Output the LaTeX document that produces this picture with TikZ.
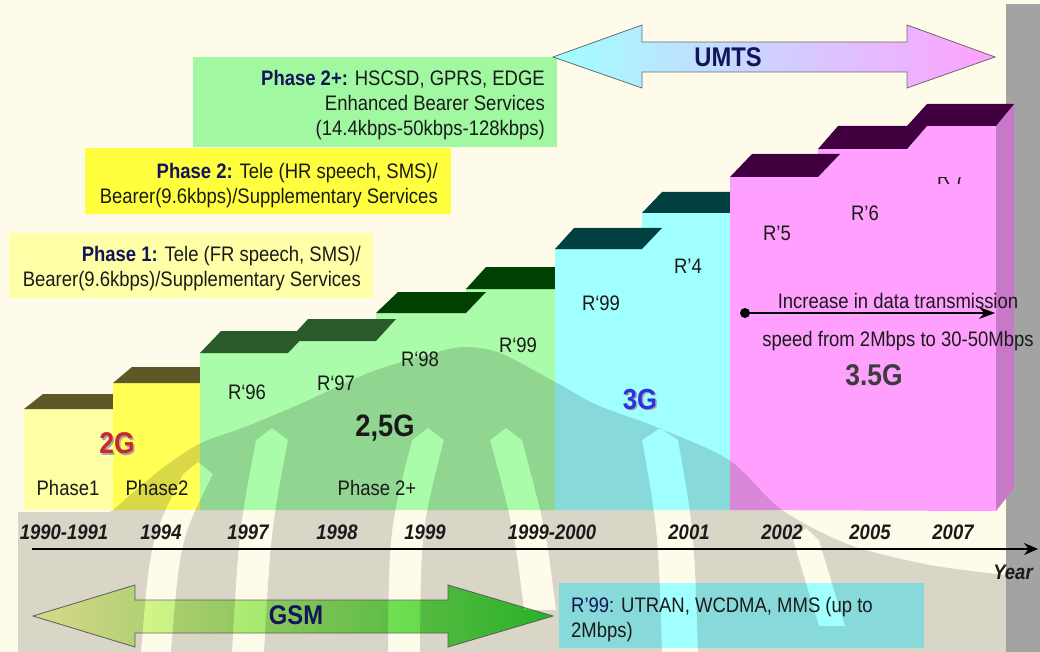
\documentclass[tikz,border=0pt]{standalone}
\usepackage{fontspec}
\setmainfont{Liberation Sans}[FakeStretch=0.88]
\usetikzlibrary{arrows.meta}

\definecolor{cream}{HTML}{FFFBEA}
\definecolor{greyband}{HTML}{A3A3A3}
\definecolor{navy}{HTML}{14145A}
\definecolor{ink}{HTML}{1A1A1A}
\definecolor{ylwA}{HTML}{FFFFA6}
\definecolor{ylwB}{HTML}{FFFF55}
\definecolor{olive}{HTML}{5C5828}
\definecolor{oliveside}{HTML}{D2CE8E}
\definecolor{grnF}{HTML}{AAFCAA}
\definecolor{grnT}{HTML}{2A5A2A}
\definecolor{grnD}{HTML}{004000}
\definecolor{cyF}{HTML}{A0FFFF}
\definecolor{cyT}{HTML}{004040}
\definecolor{pkF}{HTML}{FFA0FF}
\definecolor{pkT}{HTML}{400040}
\definecolor{pkS}{HTML}{C878C8}
\definecolor{boxG}{HTML}{A0F8A0}
\definecolor{boxY}{HTML}{FFFF40}
\definecolor{boxP}{HTML}{FFFFA8}
\definecolor{boxC}{HTML}{A0FFFF}
\definecolor{redtwo}{HTML}{C8282C}
\definecolor{bluethree}{HTML}{3030E0}
\definecolor{gsmL}{HTML}{FFFFA0}
\definecolor{gsmR}{HTML}{30D030}
\definecolor{umL}{HTML}{A0FFFF}
\definecolor{umR}{HTML}{FFA0FF}

\newcommand\smallsz{\fontsize{21}{25}\selectfont}
% a light band of the emblem: top point, control point, bottom point, half width
\newcommand\emblemband[4]{%
  ($(#1)+(-#4,0)$) .. controls ($(#2)+(-#4,0)$) .. ($(#3)+(-#4,0)$)
  -- ($(#3)+(#4,0)$) .. controls ($(#2)+(#4,0)$) .. ($(#1)+(#4,0)$)
  -- ($(#1)+(0,-12)$) -- cycle}

\usetikzlibrary{calc}

\begin{document}
\begin{tikzpicture}[x=1pt,y=-1pt,
  txt/.style={font=\smallsz, text=ink, inner sep=0pt},
  yr/.style={font=\smallsz\bfseries\itshape, text=ink, inner sep=0pt, anchor=base},
  lbl/.style={font=\smallsz, text=ink, inner sep=0pt, anchor=base},
  big/.style={font=\fontsize{30}{34}\selectfont\bfseries, inner sep=0pt, anchor=base},
  panel/.style={inner sep=0pt, draw=none},
  wm/.style={fill=black, opacity=0.15, even odd rule},
  bigarrow/.style={draw=gray!85!black, line width=0.8pt},
  axis/.style={draw=black, line width=1.2pt, -{Stealth[length=14pt,width=12pt]}},
]
\useasboundingbox (0,0) rectangle (1040,652);
\fill[cream] (0,0) rectangle (1040,652);
\fill[greyband] (1006,4) rectangle (1040,652);

% ---------- GSM phases (yellow) ----------
\fill[ylwA] (24,409) rectangle (113,510);
\fill[olive] (24,409) -- (43,394) -- (132,394) -- (113,409) -- cycle;
\fill[oliveside] (113,409) -- (132,394) -- (132,490) -- (113,510) -- cycle;
\fill[ylwB] (113,383) rectangle (200,510);
\fill[olive] (113,383) -- (132,367) -- (219,367) -- (200,383) -- cycle;

% ---------- Phase 2+ releases (green) ----------
\fill[grnF] (200,510) -- (200,353) -- (288,353) -- (288,341) -- (376,341)
  -- (376,313) -- (466,313) -- (466,289) -- (555,289) -- (555,510) -- cycle;
\fill[grnT] (200,353) -- (221,331) -- (309,331) -- (288,353) -- cycle;
\fill[grnT] (288,341) -- (308,319) -- (396,319) -- (376,341) -- cycle;
\fill[grnD] (376,313) -- (398,292) -- (486,292) -- (466,313) -- cycle;
\fill[grnD] (466,289) -- (486,267) -- (575,267) -- (555,289) -- cycle;

% ---------- 3G releases (cyan) ----------
\fill[cyF] (555,510) -- (555,249) -- (642,249) -- (642,213) -- (730,213) -- (730,510) -- cycle;
\fill[cyT] (555,249) -- (574,228) -- (662,228) -- (642,249) -- cycle;
\fill[cyT] (642,213) -- (662,192) -- (750,192) -- (730,213) -- cycle;

% ---------- 3.5G releases (pink) ----------
\fill[pkF] (730,510) -- (730,177) -- (818,177) -- (818,149) -- (907,149)
  -- (907,126) -- (996,126) -- (996,511) -- cycle;
\fill[pkS] (996,126) -- (1014,104) -- (1014,488) -- (996,511) -- cycle;
\fill[pkT] (730,177) -- (752,154) -- (840,154) -- (818,177) -- cycle;
\fill[pkT] (818,149) -- (838,126) -- (927,126) -- (907,149) -- cycle;
\fill[pkT] (907,126) -- (927,104) -- (1014,104) -- (996,126) -- cycle;

% ---------- service boxes ----------
\node[panel, fill=boxG, minimum width=364pt, minimum height=90pt] (boxTwoPlus) at (375,102) {};
\node[panel, fill=boxY, minimum width=366pt, minimum height=66pt] (boxTwo) at (268,181.5) {};
\node[panel, fill=boxP, minimum width=364pt, minimum height=65pt] (boxOne) at (191,265.5) {};
\node[panel, fill=boxC, minimum width=365pt, minimum height=65pt] (boxUtran) at (741.5,615.5) {};

% ---------- GSM and UMTS span arrows ----------
\path[bigarrow, left color=gsmL, right color=gsmR]
  (33,616) -- (135,585) -- (135,600) -- (448,600) -- (448,585) -- (553,616)
  -- (448,647) -- (448,633) -- (135,633) -- (135,647) -- cycle;
\path[bigarrow, left color=umL, right color=umR]
  (553,57) -- (642,25) -- (642,42) -- (907,42) -- (907,25) -- (995,57)
  -- (907,88) -- (907,72) -- (642,72) -- (642,88) -- cycle;

% ---------- faint background emblem (dark dome with light bands cut out) ----------
\fill[wm] (18,662) -- (18,512) -- (110,512)
  -- plot[smooth] coordinates {(113,510) (160,470) (199,444)
  (245,427) (300,404) (371,372) (430,354) (464,347) (500,353) (557,383)
  (597,405) (656,427) (729,460) (782,510) (850,545) (930,565) (1006,575)}
  -- (1006,662) -- cycle
  \emblemband{198,474}{165,540}{156,652}{15}
  \emblemband{272,440}{255,530}{248,652}{16}
  \emblemband{428,440}{405,530}{404,652}{16}
  \emblemband{506,440}{530,530}{540,610}{16}
  \emblemband{660,440}{676,530}{680,652}{18}
  \emblemband{806,540}{818,580}{832,626}{13};

% ---------- time axis ----------
\coordinate (axStart) at (32,549);
\coordinate (axEnd) at (1038,549);
\draw[axis] (axStart) -- (axEnd);
\node[yr] (yrA) at (64,539.5) {1990-1991};
\node[yr] (yrB) at (161,539.5) {1994};
\node[yr] (yrC) at (248,539.5) {1997};
\node[yr] (yrD) at (337,539.5) {1998};
\node[yr] (yrE) at (425,539.5) {1999};
\node[yr] (yrF) at (552,539.5) {1999-2000};
\node[yr] (yrG) at (689,539.5) {2001};
\node[yr] (yrH) at (782,539.5) {2002};
\node[yr] (yrI) at (870,539.5) {2005};
\node[yr] (yrJ) at (953,539.5) {2007};
\node[yr] (yrLabel) at (1013,579.5) {Year};

% ---------- box texts ----------
\node[txt, anchor=east, align=right] (tTwoPlus) at (545,105)
  {\textcolor{navy}{\bfseries Phase 2+:} HSCSD, GPRS, EDGE\\Enhanced Bearer Services\\(14.4kbps-50kbps-128kbps)};
\node[txt, anchor=east, align=right] (tTwo) at (438,185.5)
  {\textcolor{navy}{\bfseries Phase 2:} Tele (HR speech, SMS)/\\Bearer(9.6kbps)/Supplementary Services};
\node[txt, anchor=east, align=right] (tOne) at (361,268.5)
  {\textcolor{navy}{\bfseries Phase 1:} Tele (FR speech, SMS)/\\Bearer(9.6kbps)/Supplementary Services};
\node[txt, anchor=west, align=left] (tUtran) at (571,619.5)
  {\textcolor{navy}{R’99:} UTRAN, WCDMA, MMS (up to\\2Mbps)};

\node[font=\fontsize{27}{30}\selectfont\bfseries, text=navy, inner sep=0pt, anchor=base] (gsm) at (296,624.7) {GSM};
\node[font=\fontsize{27}{30}\selectfont\bfseries, text=navy, inner sep=0pt, anchor=base] (umts) at (728,66.7) {UMTS};

% ---------- bar labels ----------
\node[lbl] (lPhOne) at (68,495.5) {Phase1};
\node[lbl] (lPhTwo) at (157,495.5) {Phase2};
\node[big, text=gray!70] at (118.5,455.2) {2G};
\node[big, text=redtwo] (lTwoG) at (117,453.7) {2G};
\node[lbl] (r96) at (247,399.5) {R‘96};
\node[lbl] (r97) at (336,390.5) {R‘97};
\node[lbl] (r98) at (420,366.5) {R‘98};
\node[lbl] (r99a) at (518,352.5) {R‘99};
\node[big, font=\fontsize{31}{34}\selectfont\bfseries, text=ink] (lTwoFive) at (385,436) {2,5G};
\node[lbl] (lPhTwoPlus) at (377,495.5) {Phase 2+};
\node[lbl] (r99b) at (601,310.5) {R‘99};
\node[lbl] (r4) at (688,273.5) {R’4};
\node[big, font=\fontsize{29}{32}\selectfont\bfseries, text=gray!70] at (641.5,410.9) {3G};
\node[big, font=\fontsize{29}{32}\selectfont\bfseries, text=bluethree] (lThreeG) at (640,409.4) {3G};
\node[lbl] (r5) at (777,240.5) {R’5};
\node[lbl] (r6) at (865,220.5) {R’6};
\node[lbl] (r7) at (951,185) {R’7};
\fill[pkF] (930,130) rectangle (975,177);
\node[big, text=ink!85] (lThreeFive) at (874,385.7) {3.5G};

% ---------- data-rate note ----------
\node[lbl] (incA) at (898,308.5) {Increase in data transmission};
\node[lbl] (incB) at (898,346.5) {speed from 2Mbps to 30-50Mbps};
\coordinate (rateStart) at (745,313);
\coordinate (rateEnd) at (995,313);
\fill[black] (rateStart) circle (5);
\draw[line width=1.2pt, -{Stealth[length=16pt,width=12pt]}] (rateStart) -- (rateEnd);
\end{tikzpicture}
\end{document}
